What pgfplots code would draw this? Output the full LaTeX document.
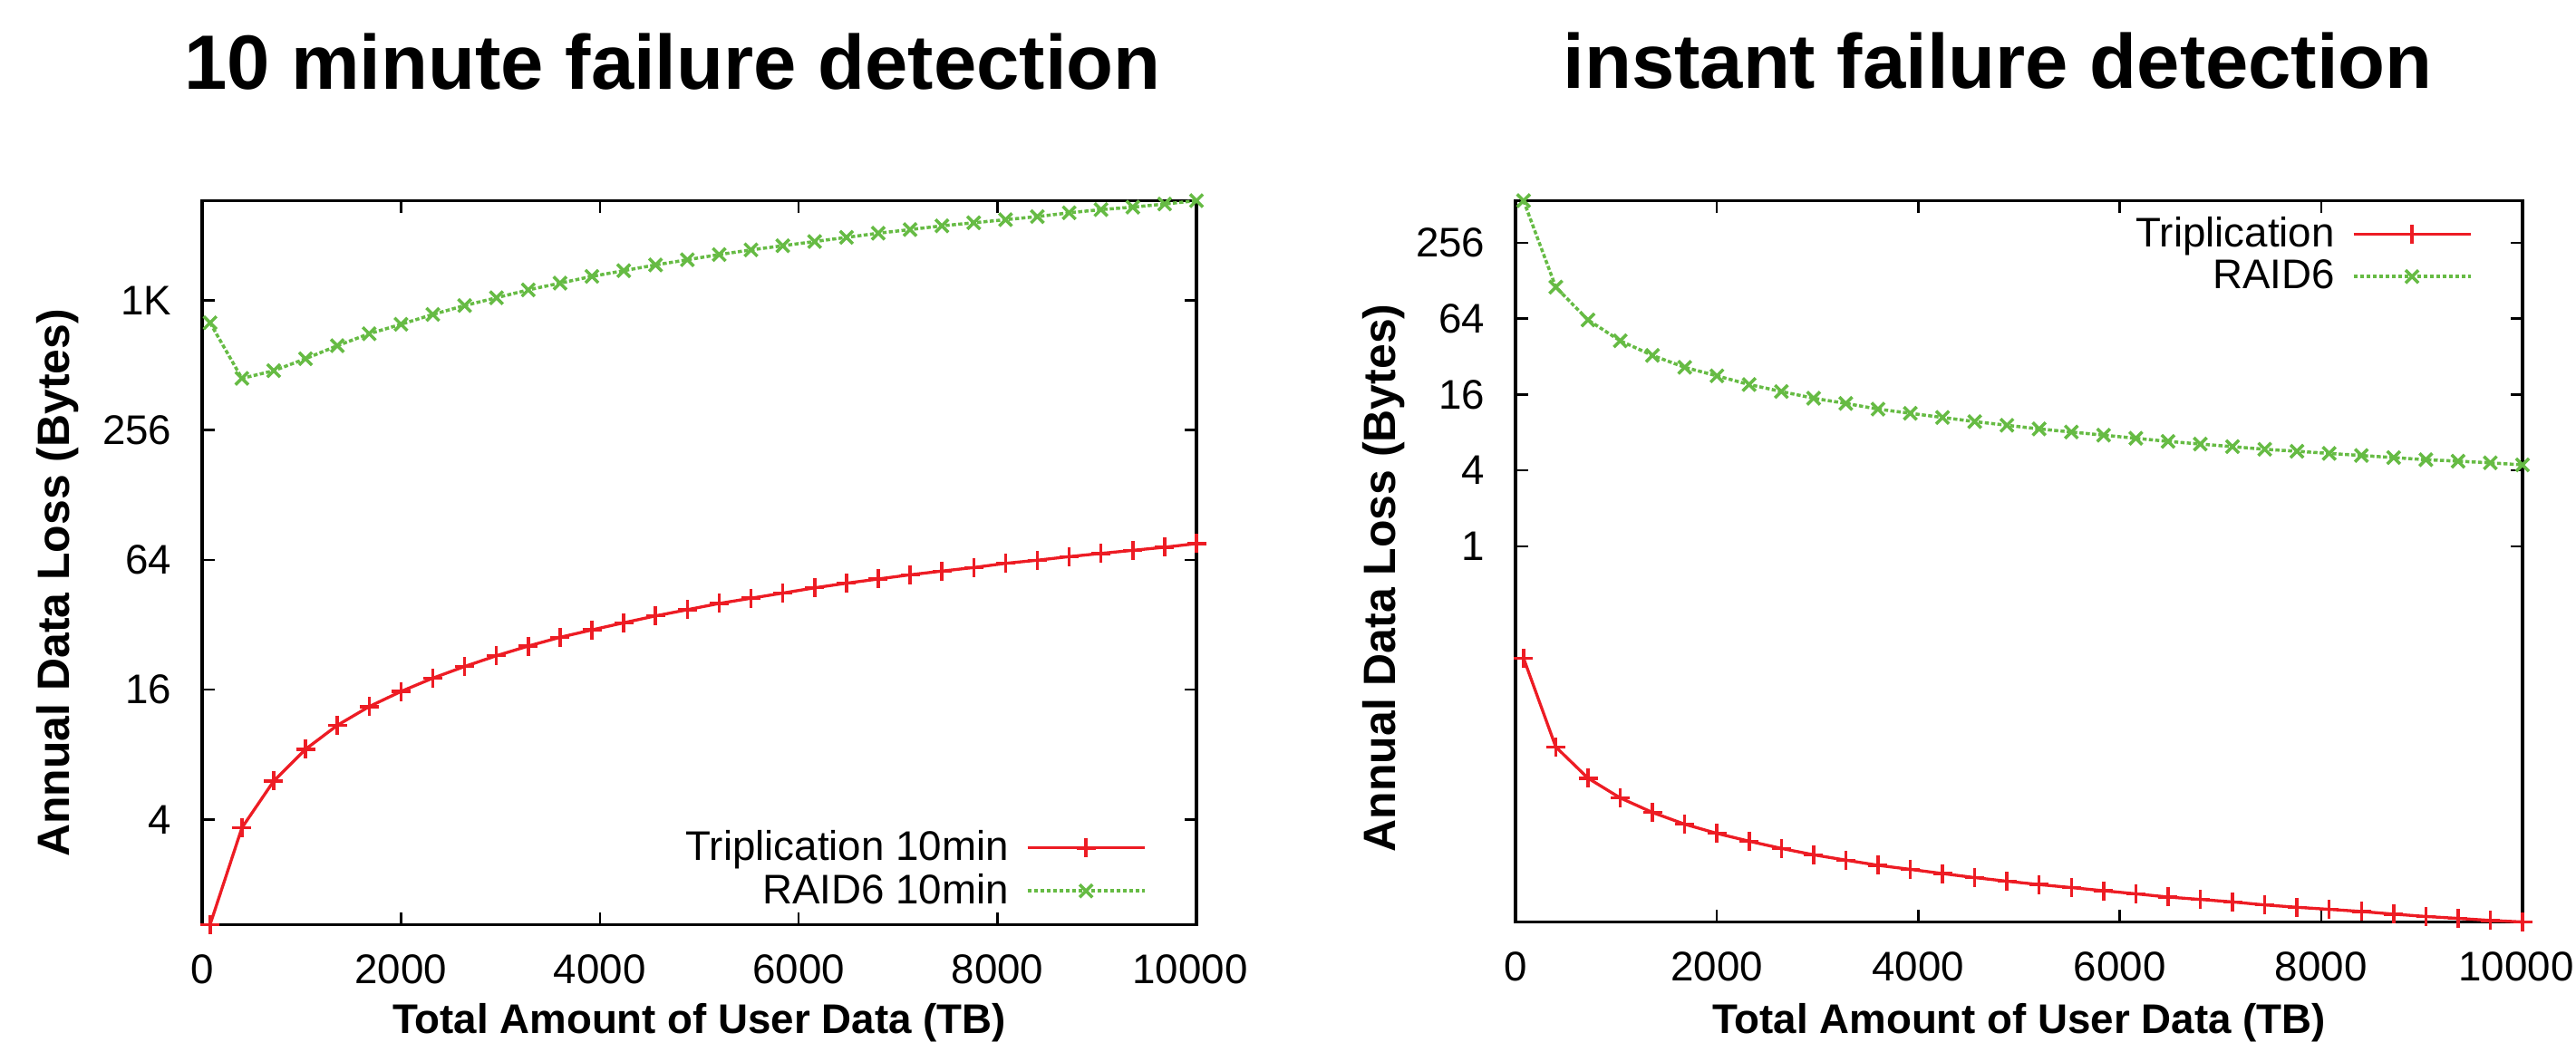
\documentclass[border=0pt]{standalone}
\usepackage{fontspec}
\setmainfont{Liberation Sans}
\usepackage{pgfplots}
\pgfplotsset{compat=1.18}
\usepackage{pgfplotstable}

\definecolor{tripred}{RGB}{237,28,36}
\definecolor{raidgreen}{RGB}{102,187,68}

% 10 minute failure detection
\pgfplotstableread{
x     trip  raid
80    1.3   806
400   3.66  445
720   6.03  483
1040  8.47  549
1360  10.94 631
1680  13.36 717
2000  15.7  793
2320  18.1  881
2640  20.5  969
2960  23.0  1053
3280  25.5  1145
3600  28.0  1231
3920  30.3  1323
4240  32.7  1406
4560  35.2  1495
4880  37.6  1580
5200  40.2  1670
5520  42.5  1756
5840  44.9  1836
6160  47.5  1920
6480  49.9  2007
6800  52.2  2098
7120  54.6  2181
7440  56.8  2270
7760  59.0  2346
8080  61.7  2425
8400  63.8  2506
8720  66.3  2609
9040  68.6  2700
9360  70.9  2772
9680  73.3  2866
10000 76.2  2970
}\tenmin

% instant failure detection
\pgfplotstableread{
x     trip     raid
80    0.129    553
400   0.0255   114
720   0.0144   62.5
1040  0.01004  42.7
1360  0.0077   32.7
1680  0.00621  26.3
2000  0.00525  22.5
2320  0.00455  19.2
2640  0.00399  16.9
2960  0.00355  14.95
3280  0.00322  13.6
3600  0.00293  12.25
3920  0.00272  11.35
4240  0.00252  10.52
4560  0.00234  9.75
4880  0.00219  9.12
5200  0.00206  8.53
5520  0.00195  8.06
5840  0.00184  7.61
6160  0.00174  7.19
6480  0.00164  6.79
6800  0.00157  6.47
7120  0.00150  6.17
7440  0.00142  5.88
7760  0.00136  5.67
8080  0.00131  5.45
8400  0.00126  5.25
8720  0.00120  5.05
9040  0.00115  4.86
9360  0.00111  4.73
9680  0.00107  4.59
10000 0.00104  4.42
}\instant

\pgfplotsset{
  legend image code/.code={%
    \draw[mark repeat=2,mark phase=2,#1] plot coordinates {(0cm,0cm) (0.645cm,0cm) (1.29cm,0cm)};},
  lossaxis/.style={
    scale only axis, anchor=south west,
    yminorticks=false, xminorticks=false,
    xmin=0, xmax=10000,
    xtick={0,2000,4000,6000,8000,10000},
    xticklabels={0,2000,4000,6000,8000,\hspace*{-1.4mm}10000},
    tick pos=both, tick align=inside,
    major tick length=1.35mm,
    tick style={line width=0.25mm, black},
    axis line style={line width=0.33mm},
    clip=false,
    /pgf/number format/assume math mode=true,
    tick label style={font=\fontsize{13}{16}\selectfont},
    yticklabel style={anchor=east, inner sep=0pt, xshift=-3.3mm},
    xticklabel style={anchor=base, inner sep=0pt, yshift=-6.5mm},
    title style={font=\fontsize{24.2}{29}\selectfont\bfseries, anchor=base, yshift=0pt},
    xlabel={Total Amount of User Data (TB)},
    ylabel={Annual Data Loss (Bytes)},
    xlabel style={font=\fontsize{13}{16}\selectfont\bfseries, inner sep=0pt},
    ylabel style={font=\fontsize{14.2}{17}\selectfont\bfseries, inner sep=0pt},
    legend cell align={right},
    legend plot pos=right,
    legend style={draw=none, fill=none, anchor=east, inner sep=0pt,
      font=\fontsize{13}{16}\selectfont, row sep=-0.5mm, column sep=1.2mm},
  },
  tripline/.style={tripred, line width=0.33mm, mark=+, mark size=1.05mm,
    mark options={solid, line width=0.35mm}},
  raidline/.style={raidgreen, line width=0.35mm, dash pattern=on 0.45mm off 0.25mm,
    mark=x, mark size=1mm, mark options={solid, line width=0.35mm}},
}

\begin{document}
\begin{tikzpicture}
\useasboundingbox (0,0) rectangle (28.42cm,11.61cm);

\begin{axis}[ymode=log, log basis y=2, lossaxis,
  at={(2.23cm,1.405cm)}, width=10.97cm, height=7.99cm,
  ymin=1.3, ymax=2970,
  ytick={4,16,64,256,1024}, yticklabels={4,16,64,256,1K},
  title={10 minute failure detection},
  title style={at={(axis description cs:0.473,1.1277)}},
  xlabel style={at={(axis description cs:0.5,-0.1496)}, anchor=base},
  ylabel style={at={(axis description cs:-0.1331,0.472)}, anchor=base},
  legend style={at={(axis description cs:0.95,0.0763)}},
]
\addplot[tripline] table[x=x, y=trip] {\tenmin};
\addlegendentry{Triplication 10min}
\addplot[raidline] table[x=x, y=raid] {\tenmin};
\addlegendentry{RAID6 10min}
\end{axis}

\begin{axis}[ymode=log, log basis y=2, lossaxis,
  at={(16.72cm,1.435cm)}, width=11.11cm, height=7.96cm,
  ymin=0.00104, ymax=553,
  ytick={1,4,16,64,256}, yticklabels={1,4,16,64,256},
  title={instant failure detection},
  title style={at={(axis description cs:0.479,1.1294)}},
  xlabel style={at={(axis description cs:0.5,-0.154)}, anchor=base},
  ylabel style={at={(axis description cs:-0.1197,0.477)}, anchor=base},
  legend style={at={(axis description cs:0.9505,0.9246)}},
]
\addplot[tripline] table[x=x, y=trip] {\instant};
\addlegendentry{Triplication}
\addplot[raidline] table[x=x, y=raid] {\instant};
\addlegendentry{RAID6}
\end{axis}
\end{tikzpicture}
\end{document}
